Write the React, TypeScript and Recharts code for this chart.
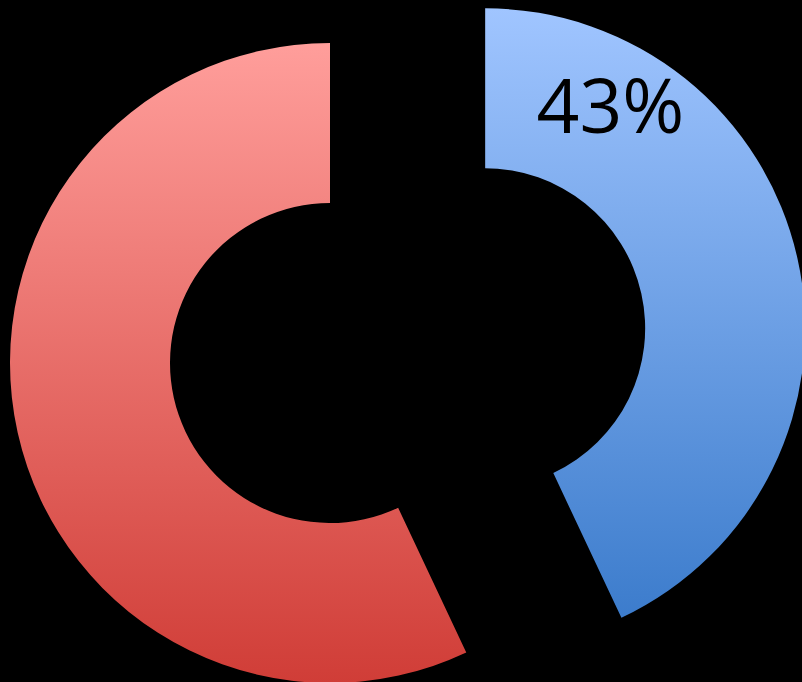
import { PieChart, Pie, Cell } from 'recharts';

const names = ['Blue', 'Red'];
const values = [43, 57];
const shown = [true, false];
const explodedIndex = 0;

const data = names.map((name, i) => ({ name, value: values[i] }));

const W = 802;
const H = 682;
const CX = 330;
const CY = 363;
const INNER = 160;
const OUTER = 320;
const EXPLODE = 159;

const total = values.reduce((a, b) => a + b, 0);
// mid angle of exploded slice (recharts degrees, counter-clockwise from 3 o'clock)
const before = values.slice(0, explodedIndex).reduce((a, b) => a + b, 0);
const midAngle = 90 - ((before + values[explodedIndex] / 2) / total) * 360;
const dx = Math.cos((midAngle * Math.PI) / 180) * EXPLODE;
const dy = -Math.sin((midAngle * Math.PI) / 180) * EXPLODE;

const gradients = ['url(#blueGrad)', 'url(#redGrad)'];

const renderLabel = (props: any) => {
  if (props.index !== explodedIndex || !shown[props.index]) return null;
  const a = ((props.startAngle - (props.startAngle - props.endAngle) * 0.19) * Math.PI) / 180;
  const r = 249;
  const x = props.cx + Math.cos(a) * r;
  const y = props.cy - Math.sin(a) * r;
  return (
    <text
      x={x + 3}
      y={y + 22}
      textAnchor="middle"
      fill="#000"
      fontSize={75}
      fontFamily="'Open Sans', sans-serif"
    >
      {`${props.value}%`}
    </text>
  );
};

export default function App() {
  return (
    <div style={{ position: 'fixed', left: 0, top: 0, width: W, height: H, background: '#000' }}>
      <PieChart width={W} height={H} margin={{ top: 0, right: 0, bottom: 0, left: 0 }}>
        <defs>
          <linearGradient id="redGrad" x1="0" y1="0" x2="0" y2="1">
            <stop offset="0%" stopColor="#FF9E9B" />
            <stop offset="100%" stopColor="#D03D37" />
          </linearGradient>
          <linearGradient id="blueGrad" x1="0" y1="0" x2="0" y2="1">
            <stop offset="0%" stopColor="#A0C5FF" />
            <stop offset="100%" stopColor="#3C7CCC" />
          </linearGradient>
        </defs>
        {/* slices that stay in place */}
        <Pie
          data={data}
          dataKey="value"
          cx={CX}
          cy={CY}
          innerRadius={INNER}
          outerRadius={OUTER}
          startAngle={90}
          endAngle={-270}
          stroke="none"
          isAnimationActive={false}
        >
          {data.map((d, i) => (
            <Cell key={d.name} fill={i === explodedIndex ? 'none' : gradients[i]} />
          ))}
        </Pie>
        {/* exploded slice */}
        <Pie
          data={data}
          dataKey="value"
          cx={CX + dx}
          cy={CY + dy}
          innerRadius={INNER}
          outerRadius={OUTER}
          startAngle={90}
          endAngle={-270}
          stroke="none"
          label={renderLabel}
          labelLine={false}
          isAnimationActive={false}
        >
          {data.map((d, i) => (
            <Cell key={d.name} fill={i === explodedIndex ? gradients[i] : 'none'} />
          ))}
        </Pie>
      </PieChart>
    </div>
  );
}
